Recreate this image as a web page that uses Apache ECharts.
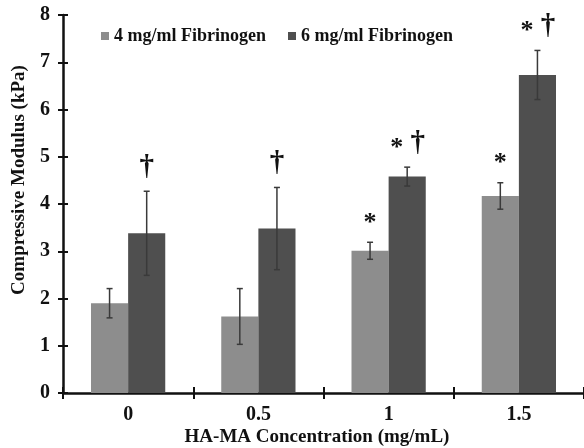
<!DOCTYPE html>
<html>
<head>
<meta charset="utf-8">
<script src="https://cdn.jsdelivr.net/npm/echarts@6/dist/echarts.min.js"></script>
<style>
html,body{margin:0;padding:0;background:#fff;}
#chart{width:584px;height:448px;}
</style>
</head>
<body>
<div id="chart"></div>
<script>
var categories = ['0', '0.5', '1', '1.5'];
var seriesNames = ['4 mg/ml Fibrinogen', '6 mg/ml Fibrinogen'];
var fib4 = [1.90, 1.62, 3.01, 4.17];
var fib4Err = [0.31, 0.59, 0.18, 0.28];
var fib6 = [3.38, 3.48, 4.58, 6.73];
var fib6Err = [0.89, 0.87, 0.20, 0.52];
var fib4Marks = ['', '', '*', '*'];
var fib6Marks = ['\u2020', '\u2020', '* \u2020', '* \u2020'];
var yTicks = [0, 1, 2, 3, 4, 5, 6, 7, 8];
var yTitle = 'Compressive Modulus (kPa)';
var xTitle = 'HA-MA Concentration (mg/mL)';

var FONT = '"Liberation Serif", "Times New Roman", serif';
var CAT_GAP = 0.43;

function errData(vals, errs) {
  return vals.map(function (v, i) { return [i, v, errs[i]]; });
}

function makeErrRender(side, marks) {
  return function (params, api) {
    var idx = api.value(0);
    var mean = api.value(1);
    var err = api.value(2);
    var mark = marks[params.dataIndex];
    var band = api.size([1, 0])[0];
    var bw = band * (1 - CAT_GAP) / 2;
    var off = side * bw / 2;
    var top = api.coord([idx, mean + err]);
    var bot = api.coord([idx, mean - err]);
    var x = top[0] + off;
    var cap = 3;
    var st = { stroke: '#3a3a3a', lineWidth: 1.5 };
    var children = [
      { type: 'line', shape: { x1: x, y1: top[1], x2: x, y2: bot[1] }, style: st },
      { type: 'line', shape: { x1: x - cap, y1: top[1], x2: x + cap, y2: top[1] }, style: st },
      { type: 'line', shape: { x1: x - cap, y1: bot[1], x2: x + cap, y2: bot[1] }, style: st }
    ];
    if (mark) {
      var toks = mark.split(' ');
      var spacing = 21;
      toks.forEach(function (t, k) {
        var dx = (k - (toks.length - 1) / 2) * spacing;
        var isStar = t === '*';
        children.push({
          type: 'text',
          x: x + dx, y: top[1] - (isStar ? 19 : 24),
          style: {
            text: t, align: 'center', verticalAlign: 'middle', fill: '#111',
            font: (isStar ? 'bold 26px ' : 'bold 29px ') + FONT
          }
        });
      });
    }
    return { type: 'group', children: children };
  };
}

var chart = echarts.init(document.getElementById('chart'), null, { renderer: 'canvas' });
var axisLabelStyle = { fontFamily: FONT, fontWeight: 'bold', fontSize: 20, color: '#111' };

chart.setOption({
  animation: false,
  backgroundColor: '#fff',
  grid: { left: 63, right: 0, top: 15, bottom: 55, containLabel: false },
  legend: {
    data: seriesNames,
    left: 96, top: 22,
    itemWidth: 8, itemHeight: 8, itemGap: 22,
    icon: 'rect',
    textStyle: { fontFamily: FONT, fontWeight: 'bold', fontSize: 18, color: '#111' }
  },
  xAxis: [{
    type: 'category', data: categories,
    axisLine: { lineStyle: { color: '#111', width: 2.5 } },
    axisTick: { show: true, length: 6, alignWithLabel: false, lineStyle: { color: '#111', width: 2 } },
    axisLabel: Object.assign({ margin: 12 }, axisLabelStyle),
    splitLine: { show: false }
  }, {
    type: 'category', data: categories, position: 'bottom',
    axisLine: { show: false },
    axisTick: { show: true, inside: true, length: 6, alignWithLabel: false, lineStyle: { color: '#111', width: 2 } },
    axisLabel: { show: false },
    splitLine: { show: false }
  }],
  yAxis: [{
    type: 'value', min: yTicks[0], max: yTicks[yTicks.length - 1], interval: 1,
    axisLine: { show: true, lineStyle: { color: '#111', width: 2.5 } },
    axisTick: { show: true, length: 5, lineStyle: { color: '#111', width: 2 } },
    axisLabel: Object.assign({ margin: 13 }, axisLabelStyle),
    splitLine: { show: false }
  }, {
    type: 'value', min: yTicks[0], max: yTicks[yTicks.length - 1], interval: 1, position: 'left',
    axisLine: { show: false },
    axisTick: { show: true, inside: true, length: 5, lineStyle: { color: '#111', width: 2 } },
    axisLabel: { show: false },
    splitLine: { show: false }
  }],
  graphic: [{
    type: 'text', x: 19, y: 180, rotation: Math.PI / 2,
    style: { text: yTitle, font: 'bold 19px ' + FONT, fill: '#111', align: 'center', verticalAlign: 'middle' }
  }, {
    type: 'text', x: 317, y: 437,
    style: { text: xTitle, font: 'bold 19px ' + FONT, fill: '#111', align: 'center', verticalAlign: 'middle' }
  }],
  series: [{
    name: seriesNames[0], type: 'bar', data: fib4,
    barGap: '0%', barCategoryGap: (CAT_GAP * 100) + '%',
    itemStyle: { color: '#8d8d8d' }
  }, {
    name: seriesNames[1], type: 'bar', data: fib6,
    barGap: '0%', barCategoryGap: (CAT_GAP * 100) + '%',
    itemStyle: { color: '#4f4f4f' }
  }, {
    type: 'custom', renderItem: makeErrRender(-1, fib4Marks), data: errData(fib4, fib4Err),
    encode: { x: 0, y: 1 }, z: 5, silent: true
  }, {
    type: 'custom', renderItem: makeErrRender(1, fib6Marks), data: errData(fib6, fib6Err),
    encode: { x: 0, y: 1 }, z: 5, silent: true
  }]
});
</script>
</body>
</html>
